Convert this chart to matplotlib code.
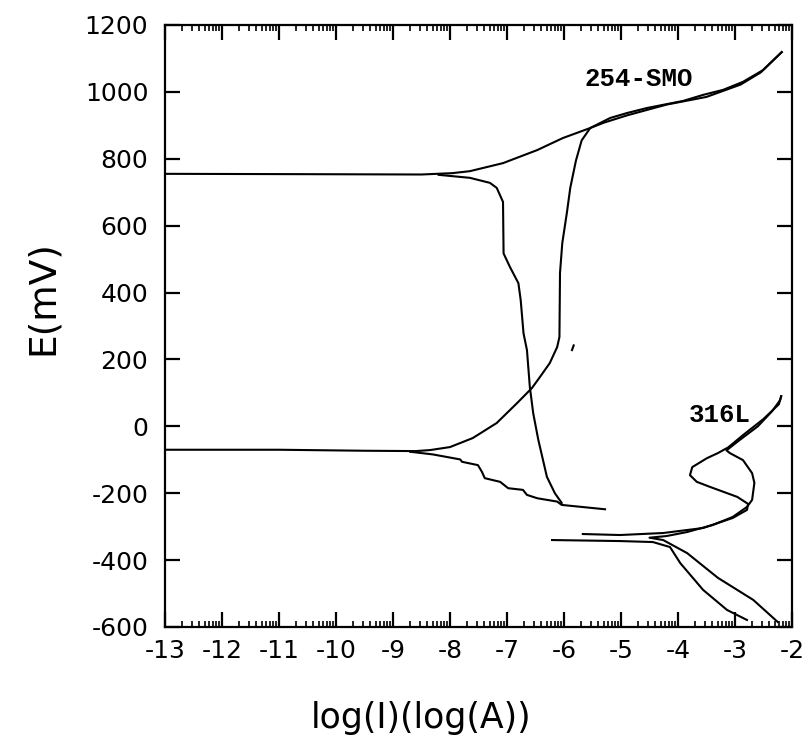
import math
import matplotlib
matplotlib.use("Agg")
import matplotlib.pyplot as plt
from matplotlib.ticker import FixedLocator

# ---------------- data (log I in log(A), E in mV) ----------------
# 254-SMO forward scan, anodic branch
smo_fwd_anodic_logi = [-13.0, -11.0, -9.5, -8.6, -8.35, -8.0, -7.6, -7.18, -6.82, -6.56,
                       -6.42, -6.25, -6.12, -6.08, -6.07, -6.03, -5.99, -5.95, -5.89, -5.79,
                       -5.69, -5.54, -5.19, -4.89, -4.54, -3.91, -3.56, -3.21, -2.86, -2.51, -2.18]
smo_fwd_anodic_e = [-70, -70, -73, -74, -71, -62, -35, 10, 70, 115,
                    148, 189, 237, 267, 459, 548, 593, 638, 713, 795,
                    855, 892, 922, 937, 952, 973, 991, 1006, 1030, 1065, 1119]

# 254-SMO forward scan, cathodic branch (stepped)
smo_fwd_cath_logi = [-8.70, -8.3, -7.82, -7.79, -7.51, -7.44, -7.39, -7.12, -6.98, -6.72,
                     -6.65, -6.47, -6.12, -6.04, -5.28]
smo_fwd_cath_e = [-76, -84, -99, -106, -116, -136, -155, -166, -185, -190,
                  -205, -215, -225, -235, -248]

# 254-SMO reverse scan
smo_rev_logi = [-2.18, -2.55, -2.9, -3.5, -4.2, -4.89, -5.3, -5.54, -6.02, -6.47,
                -7.07, -7.65, -7.96, -8.5, -10.6, -13.0]
smo_rev_e = [1119, 1058, 1022, 985, 962, 930, 908, 892, 862, 826,
             787, 763, 757, 753, 754, 755]

# 254-SMO reverse scan, cathodic branch
smo_rev_cath_logi = [-8.2, -7.65, -7.3, -7.18, -7.07, -7.06, -6.95, -6.80, -6.76, -6.71,
                     -6.65, -6.60, -6.54, -6.45, -6.30, -6.16, -6.04]
smo_rev_cath_e = [752, 743, 728, 713, 671, 517, 477, 428, 378, 278,
                  228, 119, 39, -41, -151, -200, -229]

# small isolated mark near the 254-SMO passive branch
smo_mark_logi = [-5.86, -5.83]
smo_mark_e = [228, 242]

# 316L forward scan
l316_fwd_logi = [-2.25, -2.68, -3.30, -3.84, -4.26, -4.50, -4.20, -3.84, -3.39, -3.04,
                 -2.79, -2.70, -2.66, -2.70, -2.86, -3.09, -3.15, -2.95, -2.60, -2.35,
                 -2.21, -2.19]
l316_fwd_e = [-585, -519, -453, -379, -340, -333, -328, -316, -295, -271,
              -241, -220, -169, -140, -101, -80, -72, -45, 0, 45,
              78, 90]

# 316L reverse scan
l316_rev_logi = [-2.19, -2.23, -2.50, -2.85, -3.12, -3.30, -3.49, -3.75, -3.79, -3.67,
                 -3.44, -2.96, -2.77, -2.79, -3.04, -3.56, -4.26, -5.02, -5.67]
l316_rev_e = [90, 66, 22, -25, -63, -80, -95, -122, -146, -166,
              -181, -211, -232, -250, -274, -304, -319, -325, -322]

# 316L second cathodic branch
l316_cath_logi = [-6.21, -5.02, -4.44, -4.14, -3.96, -3.56, -3.14, -2.79]
l316_cath_e = [-340, -343, -346, -361, -409, -489, -549, -579]

x_ticks = list(range(-13, -1))
y_ticks = list(range(-600, 1201, 200))
x_minor = [d + math.log10(k) for d in range(-13, -2) for k in range(2, 10)]

labels = [("254-SMO", -4.69, 1039), ("316L", -3.26, 34)]

# ---------------- figure ----------------
plt.rcParams['axes.unicode_minus'] = False
plt.rcParams['font.family'] = ['DejaVu Sans']

fig = plt.figure(figsize=(8.07, 7.55), dpi=100)
ax = fig.add_axes([165 / 807, 1 - 627 / 755, 627 / 807, 602 / 755])

lw = 1.5
for xs, ys in [(smo_fwd_anodic_logi, smo_fwd_anodic_e),
               (smo_fwd_cath_logi, smo_fwd_cath_e),
               (smo_rev_logi, smo_rev_e),
               (smo_rev_cath_logi, smo_rev_cath_e),
               (smo_mark_logi, smo_mark_e),
               (l316_fwd_logi, l316_fwd_e),
               (l316_rev_logi, l316_rev_e),
               (l316_cath_logi, l316_cath_e)]:
    ax.plot(xs, ys, color='black', lw=lw, solid_joinstyle='round')

for txt, xv, yv in labels:
    ax.text(xv, yv, txt, ha='center', va='center', fontsize=18.5,
            fontweight='bold', family=['Liberation Mono', 'DejaVu Sans Mono'])

ax.set_xlim(-13, -2)
ax.set_ylim(-600, 1200)
ax.xaxis.set_major_locator(FixedLocator(x_ticks))
ax.xaxis.set_minor_locator(FixedLocator(x_minor))
ax.yaxis.set_major_locator(FixedLocator(y_ticks))
ax.set_xticklabels([str(v) for v in x_ticks])
ax.set_yticklabels([str(v) for v in y_ticks])

ax.tick_params(which='major', direction='in', top=True, right=True, length=11, width=1.6)
ax.tick_params(which='minor', direction='in', top=True, right=True, length=4.5, width=1.2)
ax.tick_params(axis='x', which='major', labelsize=18, pad=9)
ax.tick_params(axis='y', which='major', labelsize=18, pad=12)
for s in ax.spines.values():
    s.set_linewidth(1.6)

ax.set_xlabel('log(I)(log(A))', fontsize=25)
ax.xaxis.set_label_coords(0.408, (627 - 718) / 602)
ax.xaxis.label.set_va('center')
ax.set_ylabel('E(mV)', fontsize=27)
ax.yaxis.set_label_coords(-0.195, 0.5465)
ax.yaxis.label.set_va('center')

fig.savefig('out.png', dpi=100)
